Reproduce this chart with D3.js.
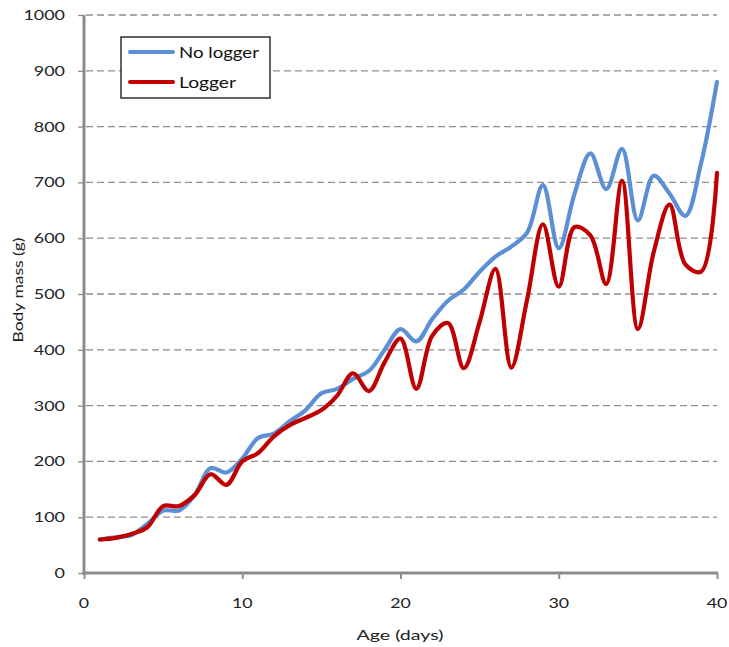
<!DOCTYPE html>
<html><head><meta charset="utf-8">
<script src="https://cdn.jsdelivr.net/npm/d3@7"></script>
<style>body{margin:0;background:#fff}</style>
</head><body>
<svg id="c" width="729" height="647"></svg>
<script>
const days = d3.range(1, 41);
const noLogger = [60,64,68,88,112,112,140,188,180,205,242,250,272,292,322,330,348,362,400,437,415,455,488,508,540,567,585,610,695,582,680,752,688,760,632,712,680,640,735,880];
const logger = [60,63,70,82,120,120,140,177,158,200,215,245,265,278,292,318,358,326,378,420,330,425,448,367,450,545,368,490,625,513,620,605,518,703,437,575,660,553,540,717];
const xTicks = [0,10,20,30,40];
const yTicks = d3.range(0, 1001, 100);
const seriesNames = ["No logger", "Logger"];
const colors = ["#5B8FD6", "#C00000"];

const svg = d3.select("#c");
const x = d3.scaleLinear().domain([0,40]).range([84,717]);
const y = d3.scaleLinear().domain([0,1000]).range([573,15]);
const font = "Lato, 'Open Sans', sans-serif";

// gridlines
svg.append("g").selectAll("line").data(yTicks.filter(v=>v>0)).join("line")
  .attr("x1", x(0)+2).attr("x2", x(40)).attr("y1", d=>y(d)).attr("y2", d=>y(d))
  .attr("stroke", "#8f8f8f").attr("stroke-width", 1.3).attr("stroke-dasharray", "7,4");

// y axis
const yAxis = svg.append("g").attr("transform", `translate(${x(0)},0)`)
  .call(d3.axisLeft(y).tickValues(yTicks).tickSize(6).tickFormat(""));
yAxis.select(".domain").remove();
yAxis.selectAll(".tick line").attr("stroke", "#8c8c8c").attr("stroke-width", 1.3);
svg.append("line").attr("x1", x(0)).attr("x2", x(0)).attr("y1", y(1000)).attr("y2", y(0)+1.5)
  .attr("stroke", "#8c8c8c").attr("stroke-width", 3);
svg.append("g").selectAll("text").data(yTicks).join("text")
  .attr("x", 65).attr("y", d=>y(d)).attr("dy", "0.35em").attr("text-anchor", "end")
  .attr("font-family", font).attr("font-size", 14).attr("fill", "#222")
  .attr("textLength", d=>String(d).length*10.4).attr("lengthAdjust", "spacingAndGlyphs")
  .text(d=>d);

// x axis
const xAxis = svg.append("g").attr("transform", `translate(0,${y(0)})`)
  .call(d3.axisBottom(x).tickValues(xTicks).tickSize(6).tickFormat(""));
xAxis.select(".domain").remove();
xAxis.selectAll(".tick line").attr("stroke", "#8c8c8c").attr("stroke-width", 2);
svg.append("line").attr("x1", x(0)-1.5).attr("x2", x(40)+1).attr("y1", y(0)).attr("y2", y(0))
  .attr("stroke", "#8c8c8c").attr("stroke-width", 3);
svg.append("g").selectAll("text").data(xTicks).join("text")
  .attr("x", d=>x(d)).attr("y", 603).attr("dy", "0.35em").attr("text-anchor", "middle")
  .attr("font-family", font).attr("font-size", 14).attr("fill", "#222")
  .attr("textLength", d=>String(d).length*10.3).attr("lengthAdjust", "spacingAndGlyphs")
  .text(d=>d);

// axis titles
svg.append("text").attr("x", 400).attr("y", 635).attr("dy", "0.35em").attr("text-anchor", "middle")
  .attr("font-family", font).attr("font-size", 14).attr("fill", "#222")
  .attr("textLength", 87).attr("lengthAdjust", "spacingAndGlyphs").text("Age (days)");
svg.append("text").attr("transform", "translate(18,290) rotate(-90)").attr("dy", "0.35em")
  .attr("text-anchor", "middle").attr("font-family", font).attr("font-size", 13).attr("fill", "#222")
  .attr("textLength", 105).attr("lengthAdjust", "spacingAndGlyphs").text("Body mass  (g)");

// lines
const line = d3.line().x((d,i)=>x(days[i])).y(d=>y(d)).curve(d3.curveCatmullRom.alpha(0.5));
[noLogger, logger].forEach((s, i) => {
  svg.append("path").datum(s).attr("d", line).attr("fill", "none")
    .attr("stroke", colors[i]).attr("stroke-width", 4.2).attr("stroke-linejoin", "round").attr("stroke-linecap", "round");
});

// legend
const lg = svg.append("g");
lg.append("rect").attr("x", 121).attr("y", 37).attr("width", 149).attr("height", 61)
  .attr("fill", "#fff").attr("stroke", "#111").attr("stroke-width", 1.3);
seriesNames.forEach((n, i) => {
  const yy = 52 + i*30;
  lg.append("line").attr("x1", 130).attr("x2", 173).attr("y1", yy).attr("y2", yy)
    .attr("stroke", colors[i]).attr("stroke-width", 4).attr("stroke-linecap", "round");
  lg.append("text").attr("x", 179).attr("y", yy).attr("dy", "0.35em")
    .attr("font-family", font).attr("font-size", 16).attr("fill", "#111")
    .attr("textLength", i===0 ? 80 : 57).attr("lengthAdjust", "spacingAndGlyphs").text(n);
});
</script>
</body></html>
